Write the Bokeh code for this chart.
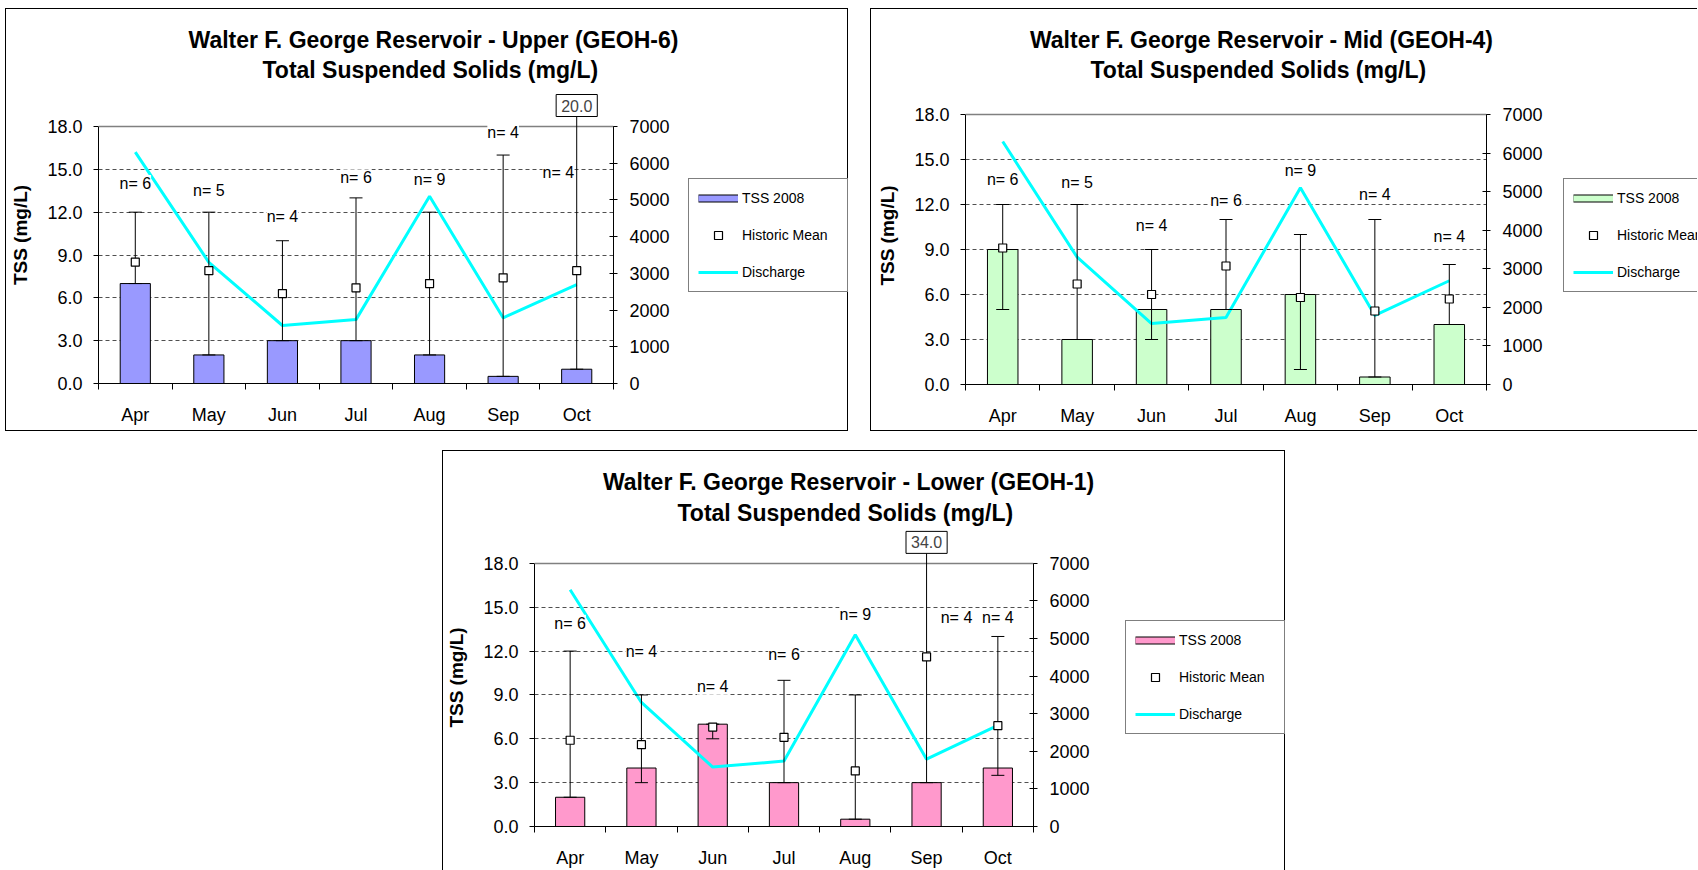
import numpy as np
from bokeh.plotting import figure
from bokeh.models import (Range1d, LinearAxis, FixedTicker, NumeralTickFormatter, Label, Span,
                          Legend, LegendItem, Whisker, TeeHead, ColumnDataSource, Spacer)
from bokeh.layouts import column, row
from bokeh.embed import file_html
from bokeh.resources import INLINE
from bokeh.core.properties import value

# ---------------- data ----------------
months = ["Apr", "May", "Jun", "Jul", "Aug", "Sep", "Oct"]
discharge = [6300, 3300, 1580, 1740, 5100, 1790, 2690]

upper_tss = [7.0, 2.0, 3.0, 3.0, 2.0, 0.5, 1.0]
upper_mean = [8.5, 7.9, 6.3, 6.7, 7.0, 7.4, 7.9]
upper_min = [7.0, 2.0, 3.0, 3.0, 2.0, 0.5, 1.0]
upper_max = [12.0, 12.0, 10.0, 13.0, 12.0, 16.0, 20.0]
upper_n = [6, 5, 4, 6, 9, 4, 4]

mid_tss = [9.0, 3.0, 5.0, 5.0, 6.0, 0.5, 4.0]
mid_mean = [9.1, 6.7, 6.0, 7.9, 5.8, 4.9, 5.7]
mid_min = [5.0, 3.0, 3.0, 5.0, 1.0, 0.5, 4.0]
mid_max = [12.0, 12.0, 9.0, 11.0, 10.0, 11.0, 8.0]
mid_n = [6, 5, 4, 6, 9, 4, 4]

lower_tss = [2.0, 4.0, 7.0, 3.0, 0.5, 3.0, 4.0]
lower_mean = [5.9, 5.6, 6.8, 6.1, 3.8, 11.6, 6.9]
lower_min = [2.0, 3.0, 6.0, 3.0, 0.5, 3.0, 3.5]
lower_max = [12.0, 9.0, 7.0, 10.0, 9.0, 34.0, 13.0]
lower_n = [6, 4, 4, 6, 9, 4, 4]

# label placement (annotation positions, not data)
upper_nlab_y = [14.0, 13.5, 11.7, 14.4, 14.3, 17.6, 14.8]
upper_nlab_dx = [0, 0, 0, 0, 0, 0, -0.25]
mid_nlab_y = [13.7, 13.5, 10.6, 12.3, 14.3, 12.7, 9.9]
mid_nlab_dx = [0, 0, 0, 0, 0, 0, 0]
lower_nlab_y = [13.9, 12.0, 9.6, 11.8, 14.5, 14.3, 14.3]
lower_nlab_dx = [0, 0, 0, 0, 0, 0.42, 0]

Y_MAX = 18.0
Q_MAX = 7000
FONT = "Liberation Sans"
LINE = "1px solid black"


def css(*sides):
    d = {"box-sizing": "border-box"}
    for s in sides:
        d["border-%s" % s] = LINE
    return d


def title_fig(name, W, H, cx, cy1, cy2, sides):
    t = figure(width=W, height=H, x_range=Range1d(0, W), y_range=Range1d(H, 0),
               x_axis_type=None, y_axis_type=None, output_backend="svg",
               toolbar_location=None, min_border=0, outline_line_color=None,
               border_fill_alpha=0.0, background_fill_alpha=0.0)
    t.grid.visible = False
    t.styles = css(*sides)
    for cy, txt in ((cy1, "Walter F. George Reservoir - %s" % name),
                    (cy2, "Total Suspended Solids  (mg/L)")):
        t.add_layout(Label(x=cx, y=cy, text=txt, text_font=FONT, text_font_size="23px",
                           text_font_style="bold", text_align="center",
                           text_baseline="middle", text_color="black"))
    return t


def plot_fig(tss, mean, lo, hi, n, color, nlab_y, nlab_dx, W, H, mbl, fw, ext, fh, sides):
    fh_total = fh + ext
    mbr = W - mbl - fw
    mbb = H - fh_total
    y_top = Y_MAX * fh_total / fh
    q_top = Q_MAX * fh_total / fh
    xs = np.arange(1, len(months) + 1)
    p = figure(width=W, height=H, x_range=Range1d(0.5, len(months) + 0.5),
               y_range=Range1d(0, y_top), output_backend="svg", toolbar_location=None,
               min_border_left=mbl, min_border_right=mbr, min_border_top=0,
               min_border_bottom=mbb, background_fill_alpha=0.0,
               border_fill_alpha=0.0, outline_line_color=None)
    p.extra_y_ranges = {"q": Range1d(0, q_top)}
    p.styles = css(*sides)

    xa = p.xaxis[0]
    xa.ticker = FixedTicker(ticks=list(xs), minor_ticks=list(np.arange(0.5, len(months) + 1, 1.0)))
    xa.major_label_overrides = {int(x): m for x, m in zip(xs, months)}
    xa.major_tick_out = 0
    xa.major_tick_in = 0
    xa.minor_tick_out = 6
    xa.minor_tick_in = 0
    xa.minor_tick_line_color = "black"
    xa.axis_line_color = "black"
    xa.major_label_text_font = FONT
    xa.major_label_text_font_size = "18px"
    xa.major_label_text_color = "black"
    xa.major_label_standoff = 15

    ya = p.yaxis[0]
    ya.bounds = (0, Y_MAX)
    ya.ticker = FixedTicker(ticks=list(np.arange(0, Y_MAX + 1, 3.0)))
    ya.formatter = NumeralTickFormatter(format="0.0")
    ya.major_tick_out = 5
    ya.major_tick_in = 0
    ya.minor_tick_line_color = None
    ya.axis_line_color = "black"
    ya.major_label_text_font = FONT
    ya.major_label_text_font_size = "18px"
    ya.major_label_text_color = "black"
    ya.major_label_standoff = 11
    ya.axis_label = "TSS (mg/L)"
    ya.axis_label_text_font = FONT
    ya.axis_label_text_font_size = "19px"
    ya.axis_label_text_font_style = "bold"
    ya.axis_label_text_color = "black"
    ya.axis_label_standoff = 13

    ra = LinearAxis(y_range_name="q", ticker=FixedTicker(ticks=list(range(0, Q_MAX + 1, 1000))),
                    formatter=NumeralTickFormatter(format="0"), bounds=(0, Q_MAX))
    ra.major_tick_out = 4
    ra.major_tick_in = 4
    ra.minor_tick_line_color = None
    ra.axis_line_color = "black"
    ra.major_label_text_font = FONT
    ra.major_label_text_font_size = "18px"
    ra.major_label_text_color = "black"
    ra.major_label_standoff = 12
    p.add_layout(ra, "right")

    p.xgrid.visible = False
    p.ygrid.ticker = FixedTicker(ticks=list(np.arange(3, Y_MAX, 3.0)))
    p.ygrid.grid_line_color = "#505050"
    p.ygrid.grid_line_dash = "4 3"
    p.ygrid.grid_line_width = 1
    p.add_layout(Span(location=Y_MAX, dimension="width", line_color="#808080", line_width=1.5))

    box_px = 21
    box_up = box_px / (fh / Y_MAX)
    src = ColumnDataSource(dict(
        x=xs, tss=tss, mean=mean, lo=lo, hi=hi,
        top=np.minimum(np.array(hi), Y_MAX + box_up), q=discharge,
        nx=xs + np.array(nlab_dx), ny=nlab_y, nt=["n= %d" % v for v in n]))

    p.vbar(x="x", top="tss", width=0.41, source=src, fill_color=color,
           line_color="black", line_width=1)
    p.line("x", "q", source=src, y_range_name="q", line_color="#00FFFF", line_width=3)

    p.add_layout(Whisker(source=src, base="x", lower="lo", upper="top", line_color="black",
                         line_width=1, level="annotation",
                         upper_head=TeeHead(size=13, line_color="black", line_width=1),
                         lower_head=TeeHead(size=13, line_color="black", line_width=1)))

    p.scatter("x", "mean", source=src, marker="square", size=8, fill_color="white",
              line_color="black", line_width=1.2, level="overlay")
    p.text(x="nx", y="ny", text="nt", source=src, text_font=value(FONT),
           text_font_size=value("16px"), text_align="center", text_baseline="middle",
           text_color="black", background_fill_color="white", level="overlay")

    for xi, h in zip(xs, hi):
        if h > Y_MAX:
            p.add_layout(Label(x=xi, y=Y_MAX, y_offset=box_px, text="%.1f" % h,
                               text_font=FONT, text_font_size="16px", text_align="center",
                               text_baseline="middle", border_line_color="black",
                               border_line_width=1, background_fill_color="white",
                               padding=5))
    return p


def legend_fig(color, W, H, loc, sides):
    lf = figure(width=W, height=H, x_range=Range1d(0, 1), y_range=Range1d(0, 1),
                x_axis_type=None, y_axis_type=None, output_backend="svg",
                toolbar_location=None, min_border=0, outline_line_color=None,
                border_fill_alpha=0.0, background_fill_alpha=0.0)
    lf.grid.visible = False
    lf.styles = css(*sides)
    nan = np.array([np.nan])
    rb1 = lf.line(x=nan, y=nan, line_color="black", line_width=8)
    rb2 = lf.line(x=nan, y=nan, line_color=color, line_width=6)
    rm = lf.scatter(x=nan, y=nan, marker="square", size=8, fill_color="white",
                    line_color="black", line_width=1.2)
    rq = lf.line(x=nan, y=nan, line_color="#00FFFF", line_width=3)
    leg = Legend(items=[LegendItem(label="TSS 2008", renderers=[rb1, rb2]),
                        LegendItem(label="Historic Mean", renderers=[rm]),
                        LegendItem(label="Discharge", renderers=[rq])],
                 location=loc, glyph_width=40, glyph_height=20, label_height=20,
                 spacing=17, padding=9, margin=0, label_standoff=4, label_width=96,
                 border_line_color="black", border_line_width=1,
                 background_fill_color="white", background_fill_alpha=1.0,
                 label_text_font=FONT, label_text_font_size="14px",
                 label_text_color="black")
    lf.add_layout(leg)
    return lf


# panel A (upper) : x 5..848, y 8..431
ta = title_fig("Upper (GEOH-6)", 843, 78, 427, 30, 60, ("left", "top", "right"))
pa = plot_fig(upper_tss, upper_mean, upper_min, upper_max, upper_n, "#9999FF",
              upper_nlab_y, upper_nlab_dx, 682, 345, 92, 515, 40, 257, ("left", "bottom"))
la = legend_fig("#9999FF", 161, 345, (1, 91), ("right", "bottom"))
panel_a = column(ta, row(pa, la))

# panel B (mid) : x 870..1697, y 8..431 (right side cut by window)
tb = title_fig("Mid (GEOH-4)", 827, 78, 390, 30, 60, ("left", "top"))
pb = plot_fig(mid_tss, mid_mean, mid_min, mid_max, mid_n, "#CCFFCC",
              mid_nlab_y, mid_nlab_dx, 692, 345, 94, 521, 28, 270, ("left", "bottom"))
lb = legend_fig("#CCFFCC", 135, 345, (1, 92), ("bottom",))
panel_b = column(tb, row(pb, lb))

# panel C (lower) : x 442..1285, y 450..870 (bottom cut by window)
tc = title_fig("Lower (GEOH-1)", 843, 78, 405, 30, 61, ("left", "top", "right"))
pc = plot_fig(lower_tss, lower_mean, lower_min, lower_max, lower_n, "#FF99CC",
              lower_nlab_y, lower_nlab_dx, 682, 342, 91, 499, 35, 264, ("left",))
lc = legend_fig("#FF99CC", 161, 342, (1, 92), ("right",))
panel_c = column(tc, row(pc, lc))

layout = column(Spacer(height=8),
                row(Spacer(width=5), panel_a, Spacer(width=22), panel_b),
                Spacer(height=19),
                row(Spacer(width=442), panel_c))

open("out.html", "w").write(file_html(layout, INLINE))
